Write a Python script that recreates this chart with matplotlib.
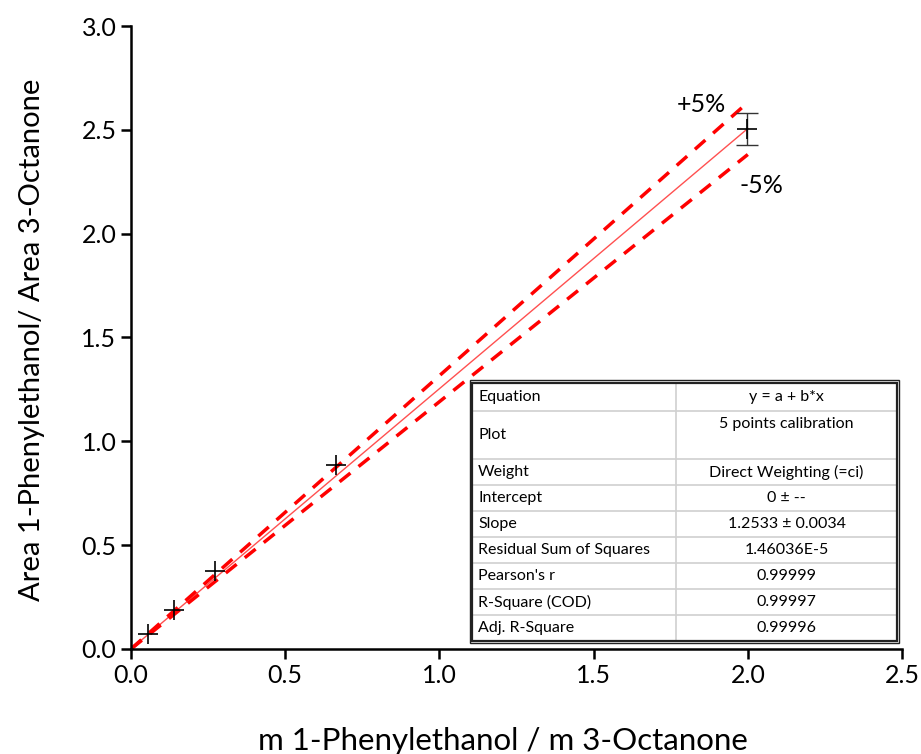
import matplotlib.pyplot as plt
import numpy as np

plt.rcParams['font.family'] = ['Lato', 'DejaVu Sans']

# calibration data
mass_ratio = np.array([0.055, 0.138, 0.272, 0.665, 1.997])
area_ratio = np.array([0.074, 0.188, 0.375, 0.884, 2.505])
area_err = np.array([0.0, 0.0, 0.0, 0.0, 0.077])

slope = 1.2533
tolerance = 0.05
fit_x = np.array([0.0, 2.0])

table_labels = ['Equation', 'Plot', 'Weight', 'Intercept', 'Slope',
                'Residual Sum of Squares', "Pearson's r", 'R-Square (COD)',
                'Adj. R-Square']
table_values = ['y = a + b*x', '5 points calibration', 'Direct Weighting (=ci)',
                '0 \u00b1 --', '1.2533 \u00b1 0.0034', '1.46036E-5', '0.99999',
                '0.99997', '0.99996']

fig = plt.figure(figsize=(9.21, 7.54), dpi=100)
ax = fig.add_axes([0.1422, 0.1393, 0.8372, 0.8262])

# fit and +/-5 % bands
ax.plot(fit_x, slope * fit_x, color='#ff5050', lw=1.0, zorder=2)
ax.plot(fit_x, slope * (1 + tolerance) * fit_x, color='red', lw=2.5,
        ls=(0, (4, 3)), zorder=2)
ax.plot(fit_x, slope * (1 - tolerance) * fit_x, color='red', lw=2.5,
        ls=(0, (4, 3)), zorder=2)

ax.plot(mass_ratio, area_ratio, ls='none', marker='+', ms=14, mew=1.2,
        color='black', zorder=4)
m = area_err > 0
ax.errorbar(mass_ratio[m], area_ratio[m], yerr=area_err[m], fmt='none',
            ecolor='#333333', elinewidth=1.0, capsize=8, capthick=1.0, zorder=3)

ax.text(1.85, 2.62, '+5%', fontsize=18, ha='center', va='center')
ax.text(2.045, 2.23, '-5%', fontsize=18, ha='center', va='center')

ax.set_xlim(0, 2.5)
ax.set_ylim(0, 3.0)
ax.set_xticks(np.arange(0, 2.51, 0.5))
ax.set_yticks(np.arange(0, 3.01, 0.5))
ax.xaxis.set_major_formatter(plt.FormatStrFormatter('%.1f'))
ax.yaxis.set_major_formatter(plt.FormatStrFormatter('%.1f'))
ax.tick_params(direction='out', length=7, width=1.8, labelsize=18)
for s in ['top', 'right']:
    ax.spines[s].set_visible(False)
for s in ['left', 'bottom']:
    ax.spines[s].set_linewidth(1.8)

ax.set_xlabel('m 1-Phenylethanol / m 3-Octanone', fontsize=22.5)
ax.set_ylabel('Area 1-Phenylethanol/ Area 3-Octanone', fontsize=21)
ax.xaxis.set_label_coords(0.4825, -0.125)
ax.yaxis.set_label_coords(-0.112, 0.497)

# results table drawn in axes fraction coordinates
tx0, tx1 = (472 - 131) / 771, (897 - 131) / 771
ty_top = (649 - 383) / 623
col_x = (676 - 131) / 771
row_h = [28, 48, 26, 26, 26, 26, 26, 26, 26]
px = 1 / 623
tr = ax.transAxes

edges = [ty_top]
for h in row_h:
    edges.append(edges[-1] - h * px)

for i, (lab, val) in enumerate(zip(table_labels, table_values)):
    top, bot = edges[i], edges[i + 1]
    ax.text(tx0 + 0.008, (top + bot) / 2, lab, transform=tr, fontsize=11.5,
            ha='left', va='center', zorder=6)
    if lab == 'Plot':
        ax.text((col_x + tx1) / 2, top - 13 * px, val, transform=tr,
                fontsize=11.5, ha='center', va='center', zorder=6)
    else:
        ax.text((col_x + tx1) / 2, (top + bot) / 2, val, transform=tr,
                fontsize=11.5, ha='center', va='center', zorder=6)
    if i > 0:
        ax.plot([tx0, tx1], [top, top], transform=tr, color='#d0d0d0',
                lw=1.2, zorder=6)

ax.add_patch(plt.Rectangle((tx0, edges[-1]), tx1 - tx0, ty_top - edges[-1],
                           transform=tr, facecolor='white', edgecolor='none',
                           zorder=5))
ax.plot([col_x, col_x], [edges[-1], ty_top], transform=tr, color='#d0d0d0',
        lw=1.2, zorder=6)
ax.add_patch(plt.Rectangle((tx0, edges[-1]), tx1 - tx0, ty_top - edges[-1],
                           transform=tr, facecolor='none', edgecolor='#222222',
                           lw=1.6, zorder=7))
ax.add_patch(plt.Rectangle((tx0 - 0.003, edges[-1] - 0.004),
                           tx1 - tx0 + 0.006, ty_top - edges[-1] + 0.008,
                           transform=tr, facecolor='none', edgecolor='#222222',
                           lw=1.0, zorder=7))

fig.savefig('out.png', dpi=100)
